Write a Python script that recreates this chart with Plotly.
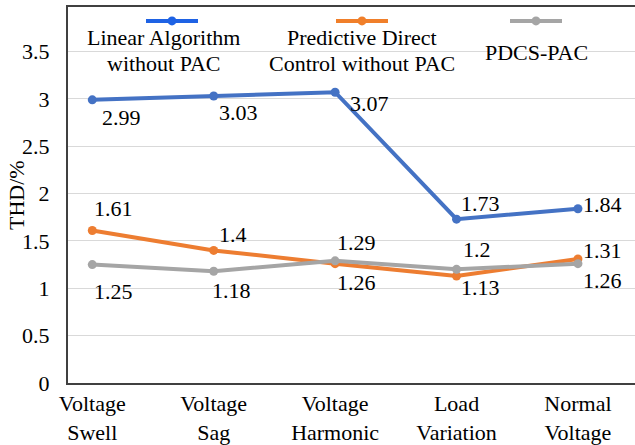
import plotly.graph_objects as go

categories = ["Voltage<br>Swell", "Voltage<br>Sag", "Voltage<br>Harmonic", "Load<br>Variation", "Normal<br>Voltage"]
linear_wo_pac = [2.99, 3.03, 3.07, 1.73, 1.84]
pdc_wo_pac = [1.61, 1.4, 1.26, 1.13, 1.31]
pdcs_pac = [1.25, 1.18, 1.29, 1.2, 1.26]
series_names = [["Linear Algorithm", "without PAC"], ["Predictive Direct", "Control without PAC"], ["PDCS-PAC"]]

colors = ["#4472C4", "#ED7D31", "#A5A5A5"]
legend_colors = ["#1E62E4", "#F07F2A", "#A5A5A5"]
FONT = "Liberation Serif"
FS = 22

# label offsets (px): (xshift, yshift)
offsets = [
    [(29, -18), (25, -16), (34, -11), (24, 16), (25, 4)],
    [(21, 22), (19, 16), (21, -19), (24, -12), (25, 8)],
    [(21, -27), (18, -19), (21, 18), (20, 20), (25, -17)],
]

W, H = 635, 445
L, T, B = 68, 7, 60
PW, PH = W - L, H - T - B

def px(x):
    return (x - L) / PW

def py(y):
    return (H - B - y) / PH

fig = go.Figure()
all_series = [linear_wo_pac, pdc_wo_pac, pdcs_pac]
for i, vals in enumerate(all_series):
    fig.add_trace(go.Scatter(
        x=categories, y=vals, mode="lines+markers",
        line=dict(color=colors[i], width=4),
        marker=dict(color=colors[i], size=9),
        showlegend=False, cliponaxis=False,
    ))

annotations = []
for i, vals in enumerate(all_series):
    for j, v in enumerate(vals):
        dx, dy = offsets[i][j]
        annotations.append(dict(
            x=categories[j], y=v, xref="x", yref="y", text=str(v),
            showarrow=False, xshift=dx, yshift=dy,
            font=dict(family=FONT, size=FS, color="black"),
        ))

legend_centers = [172, 362, 536]
legend_text_x = [163.5, 362, 536]
shapes = []
for i, cx in enumerate(legend_centers):
    shapes.append(dict(type="line", xref="paper", yref="paper",
                       x0=px(cx - 26), x1=px(cx + 26), y0=py(21), y1=py(21),
                       line=dict(color=legend_colors[i], width=4)))
    r = 4.5
    shapes.append(dict(type="circle", xref="paper", yref="paper",
                       x0=px(cx - r), x1=px(cx + r), y0=py(21 + r), y1=py(21 - r),
                       fillcolor=legend_colors[i], line=dict(width=0)))
    lines = series_names[i]
    ys = [37.5, 63.3] if len(lines) == 2 else [52.6]
    for t, yy in zip(lines, ys):
        annotations.append(dict(
            x=px(legend_text_x[i]), y=py(yy), xref="paper", yref="paper",
            text=t, showarrow=False, xanchor="center", yanchor="middle",
            font=dict(family=FONT, size=FS, color="black"),
        ))

annotations.append(dict(
    x=px(16), y=0.5, xref="paper", yref="paper", text="THD/%",
    textangle=-90, showarrow=False, xanchor="center", yanchor="middle",
    font=dict(family=FONT, size=FS, color="black"),
))

fig.update_layout(
    width=W, height=H,
    margin=dict(l=L, r=0, t=T, b=B),
    paper_bgcolor="white", plot_bgcolor="white",
    font=dict(family=FONT, size=FS, color="black"),
    annotations=annotations, shapes=shapes,
    xaxis=dict(
        type="category", range=[-0.2, 4.47],
        showgrid=False, showline=True, linecolor="#404040", linewidth=1.5,
        mirror=True, ticks="",
        tickfont=dict(family=FONT, size=FS, color="black"),
    ),
    yaxis=dict(
        range=[0, 3.97], dtick=0.5, tick0=0,
        showgrid=True, gridcolor="#D9D9D9", gridwidth=1,
        showline=True, linecolor="#404040", linewidth=2,
        zeroline=False,
        ticks="outside", ticklen=12, tickcolor="rgba(0,0,0,0)",
        tickfont=dict(family=FONT, size=FS, color="black"),
    ),
)

fig.write_html("out.html")
